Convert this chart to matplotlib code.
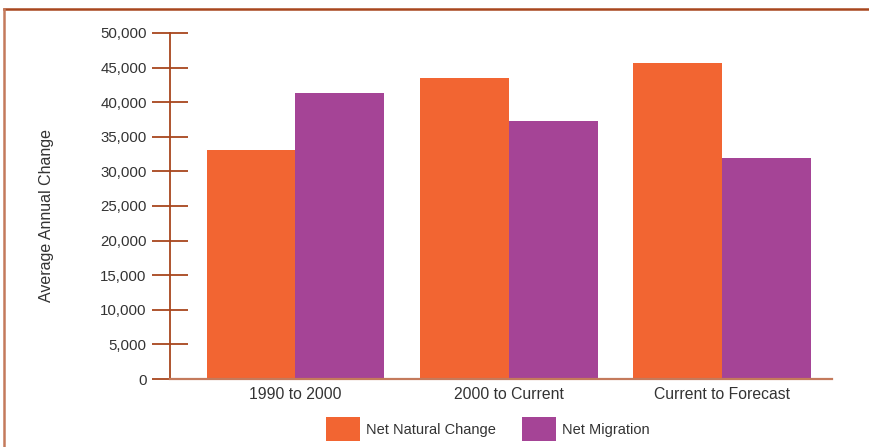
import matplotlib.pyplot as plt
from matplotlib.lines import Line2D
import numpy as np

plt.rcParams['font.family'] = ['Liberation Sans', 'DejaVu Sans']

periodos = ['1990 to 2000', '2000 to Current', 'Current to Forecast']
natural = [33100, 43500, 45700]
migracao = [41300, 37300, 31900]
y_ticks = [0, 5000, 10000, 15000, 20000, 25000, 30000, 35000, 40000, 45000, 50000]

laranja = '#f26532'
roxo = '#a54496'
marrom = '#a8461e'
texto = '#333333'

fig = plt.figure(figsize=(8.69, 4.47), dpi=100)
ax = fig.add_axes([0.1956, 0.1521, 0.7618, 0.7741])

x = np.arange(len(periodos))
w = 0.416
ax.bar(x - w / 2, natural, w, color=laranja, label='Net Natural Change')
ax.bar(x + w / 2, migracao, w, color=roxo, label='Net Migration')

ax.set_xlim(-0.588, 2.515)
ax.set_ylim(0, 50000)
ax.set_yticks(y_ticks)
ax.set_yticklabels([f'{v:,}' for v in y_ticks])
ax.set_xticks(x)
ax.set_xticklabels(periodos)

ax.tick_params(axis='y', direction='inout', length=26.6, width=1.3,
               color=marrom, labelsize=10.8, labelcolor=texto, pad=3.5)
ax.tick_params(axis='x', length=0, labelsize=11.3, labelcolor=texto, pad=6)

for s in ['top', 'right']:
    ax.spines[s].set_visible(False)
ax.spines['left'].set_color(marrom)
ax.spines['left'].set_linewidth(1.3)
ax.spines['bottom'].set_color('#c47a5c')
ax.spines['bottom'].set_linewidth(1.6)

fig.text(47 / 869, 1 - 216 / 447, 'Average Annual Change', rotation=90,
         ha='center', va='center', fontsize=11.5, color=texto)

fig.legend(loc='center', bbox_to_anchor=(488 / 869, 0.040), ncol=2,
           frameon=False, fontsize=10.5, labelcolor=texto,
           handlelength=2.3, handleheight=2.1, handletextpad=0.45,
           columnspacing=1.8)

# moldura
fig.add_artist(Line2D([4 / 869, 1], [1 - 9 / 447, 1 - 9 / 447],
                      transform=fig.transFigure, color=marrom, linewidth=1.8))
fig.add_artist(Line2D([4 / 869, 4 / 869], [0, 1 - 9 / 447],
                      transform=fig.transFigure, color='#c47a5c', linewidth=1.8))

fig.savefig('out.png', dpi=100)
